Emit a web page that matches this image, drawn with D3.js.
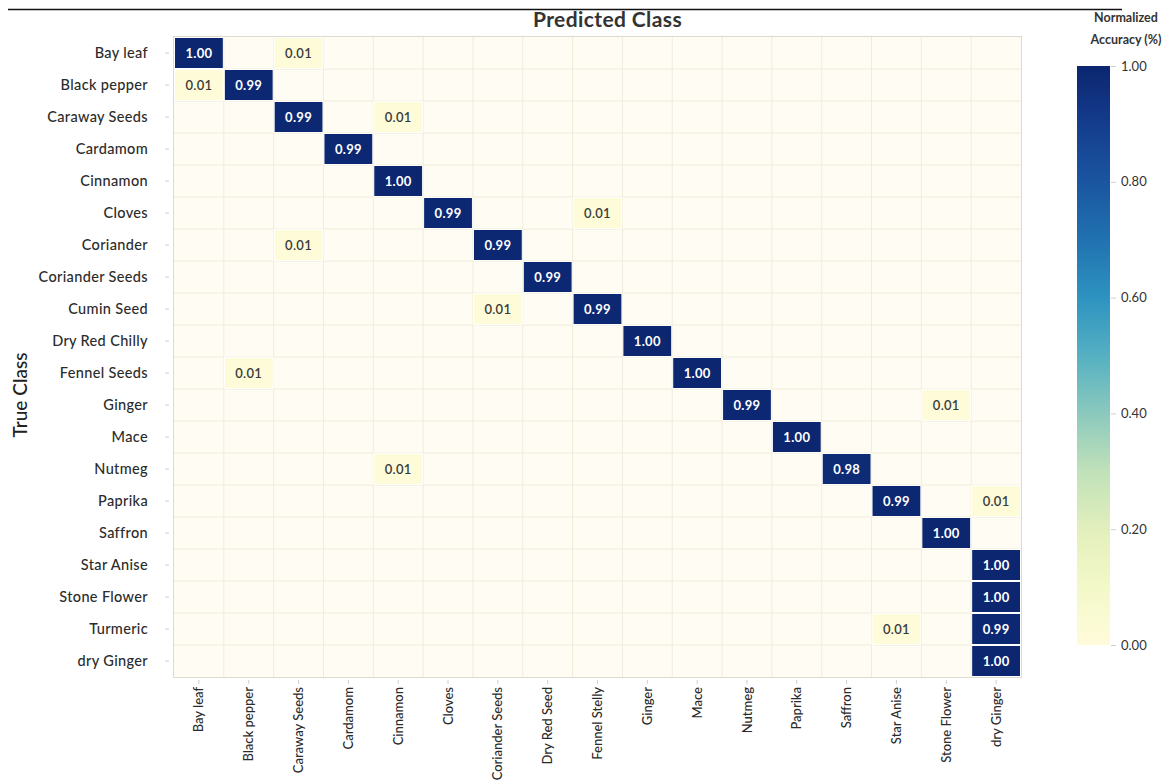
<!DOCTYPE html>
<html>
<head>
<meta charset="utf-8">
<script src="https://cdn.jsdelivr.net/npm/d3@7"></script>
<style>
  html, body { margin: 0; padding: 0; background: #ffffff; }
  svg { display: block; font-family: Lato, "Open Sans", sans-serif; }
</style>
</head>
<body>
<svg id="chart" width="1168" height="784"></svg>
<script>
// Confusion matrix: rows are the true classes, columns the predicted classes
const trueClasses = [
  "Bay leaf", "Black pepper", "Caraway Seeds", "Cardamom", "Cinnamon", "Cloves",
  "Coriander", "Coriander Seeds", "Cumin Seed", "Dry Red Chilly", "Fennel Seeds",
  "Ginger", "Mace", "Nutmeg", "Paprika", "Saffron", "Star Anise", "Stone Flower",
  "Turmeric", "dry Ginger"
];
const predictedClasses = [
  "Bay leaf", "Black pepper", "Caraway Seeds", "Cardamom", "Cinnamon", "Cloves",
  "Coriander Seeds", "Dry Red Seed", "Fennel Stelly", "Ginger", "Mace", "Nutmeg",
  "Paprika", "Saffron", "Star Anise", "Stone Flower", "dry Ginger"
];
// normalized accuracy per (true, predicted) pair
const matrix = [
  [1.00, 0, 0.01, 0, 0, 0, 0, 0, 0, 0, 0, 0, 0, 0, 0, 0, 0],
  [0.01, 0.99, 0, 0, 0, 0, 0, 0, 0, 0, 0, 0, 0, 0, 0, 0, 0],
  [0, 0, 0.99, 0, 0.01, 0, 0, 0, 0, 0, 0, 0, 0, 0, 0, 0, 0],
  [0, 0, 0, 0.99, 0, 0, 0, 0, 0, 0, 0, 0, 0, 0, 0, 0, 0],
  [0, 0, 0, 0, 1.00, 0, 0, 0, 0, 0, 0, 0, 0, 0, 0, 0, 0],
  [0, 0, 0, 0, 0, 0.99, 0, 0, 0.01, 0, 0, 0, 0, 0, 0, 0, 0],
  [0, 0, 0.01, 0, 0, 0, 0.99, 0, 0, 0, 0, 0, 0, 0, 0, 0, 0],
  [0, 0, 0, 0, 0, 0, 0, 0.99, 0, 0, 0, 0, 0, 0, 0, 0, 0],
  [0, 0, 0, 0, 0, 0, 0.01, 0, 0.99, 0, 0, 0, 0, 0, 0, 0, 0],
  [0, 0, 0, 0, 0, 0, 0, 0, 0, 1.00, 0, 0, 0, 0, 0, 0, 0],
  [0, 0.01, 0, 0, 0, 0, 0, 0, 0, 0, 1.00, 0, 0, 0, 0, 0, 0],
  [0, 0, 0, 0, 0, 0, 0, 0, 0, 0, 0, 0.99, 0, 0, 0, 0.01, 0],
  [0, 0, 0, 0, 0, 0, 0, 0, 0, 0, 0, 0, 1.00, 0, 0, 0, 0],
  [0, 0, 0, 0, 0.01, 0, 0, 0, 0, 0, 0, 0, 0, 0.98, 0, 0, 0],
  [0, 0, 0, 0, 0, 0, 0, 0, 0, 0, 0, 0, 0, 0, 0.99, 0, 0.01],
  [0, 0, 0, 0, 0, 0, 0, 0, 0, 0, 0, 0, 0, 0, 0, 1.00, 0],
  [0, 0, 0, 0, 0, 0, 0, 0, 0, 0, 0, 0, 0, 0, 0, 0, 1.00],
  [0, 0, 0, 0, 0, 0, 0, 0, 0, 0, 0, 0, 0, 0, 0, 0, 1.00],
  [0, 0, 0, 0, 0, 0, 0, 0, 0, 0, 0, 0, 0, 0, 0.01, 0, 0.99],
  [0, 0, 0, 0, 0, 0, 0, 0, 0, 0, 0, 0, 0, 0, 0, 0, 1.00]
];
const colorTicks = [0, 0.2, 0.4, 0.6, 0.8, 1.0];
const colorStops = ["#fffbdb", "#f3f8c8", "#e2efbc", "#c0e1b9", "#8bc9bd", "#55b0c2",
                    "#2e93c0", "#2072b0", "#1a55a0", "#143d8d", "#0c2670"];

const svg = d3.select("#chart");
const plot = { left: 174, right: 1021, top: 37, bottom: 677 };

const x = d3.scaleBand().domain(predictedClasses).range([plot.left, plot.right]);
const y = d3.scaleBand().domain(trueClasses).range([plot.top, plot.bottom]);
const color = d3.scaleLinear()
  .domain(d3.range(colorStops.length).map(i => i / (colorStops.length - 1)))
  .range(colorStops)
  .clamp(true);

// rule across the top
svg.append("line")
  .attr("x1", 8).attr("x2", 1122).attr("y1", 9.5).attr("y2", 9.5)
  .attr("stroke", "#111").attr("stroke-width", 1.3);

// plot background
svg.append("rect")
  .attr("x", plot.left).attr("y", plot.top)
  .attr("width", plot.right - plot.left).attr("height", plot.bottom - plot.top)
  .attr("fill", "#fffdf3");

// grid on cell boundaries
const grid = svg.append("g").attr("stroke", "#efecdc").attr("stroke-width", 1);
predictedClasses.forEach((c, i) => {
  if (i === 0) return;
  grid.append("line").attr("x1", x(c)).attr("x2", x(c))
    .attr("y1", plot.top).attr("y2", plot.bottom);
});
trueClasses.forEach((r, i) => {
  if (i === 0) return;
  grid.append("line").attr("y1", y(r)).attr("y2", y(r))
    .attr("x1", plot.left).attr("x2", plot.right);
});

// frame
svg.append("rect")
  .attr("x", plot.left - 0.5).attr("y", plot.top - 0.5)
  .attr("width", plot.right - plot.left + 1).attr("height", plot.bottom - plot.top + 1)
  .attr("fill", "none").attr("stroke", "#dddbd0").attr("stroke-width", 1);

// non-zero cells
const cells = [];
matrix.forEach((row, i) => row.forEach((v, j) => {
  if (v > 0) cells.push({ t: trueClasses[i], p: predictedClasses[j], v });
}));

const cellG = svg.append("g");
cellG.selectAll("rect").data(cells).join("rect")
  .attr("x", d => x(d.p) + 0.5)
  .attr("y", d => y(d.t) + 0.5)
  .attr("width", x.bandwidth() - 1)
  .attr("height", y.bandwidth() - 1)
  .attr("fill", d => color(d.v))
  .attr("stroke", "#ffffff").attr("stroke-width", 1);

cellG.selectAll("text").data(cells).join("text")
  .attr("x", d => x(d.p) + x.bandwidth() / 2)
  .attr("y", d => y(d.t) + y.bandwidth() / 2)
  .attr("dy", "0.36em")
  .attr("text-anchor", "middle")
  .attr("font-size", 13)
  .attr("letter-spacing", 0.3)
  .attr("font-weight", d => d.v > 0.5 ? 700 : 600)
  .attr("fill", d => d.v > 0.5 ? "#ffffff" : "#3a3a3a")
  .text(d => d3.format(".2f")(d.v));

// y axis (true class)
const yAxis = svg.append("g")
  .attr("transform", `translate(${plot.left - 5},0)`)
  .call(d3.axisLeft(y).tickSize(4).tickPadding(17));
yAxis.select(".domain").remove();
yAxis.selectAll(".tick line").attr("stroke", "#cfcfcf");
yAxis.selectAll(".tick text")
  .attr("font-size", 14.5).attr("letter-spacing", 0.35).attr("fill", "#2b2b2b")
  .attr("font-family", "Lato, sans-serif").attr("font-weight", 500);

// x axis (predicted class), labels rotated
const xAxis = svg.append("g")
  .attr("transform", `translate(0,${plot.bottom + 3})`)
  .call(d3.axisBottom(x).tickSize(4).tickPadding(6));
xAxis.select(".domain").remove();
xAxis.selectAll(".tick line").attr("stroke", "#cfcfcf");
xAxis.selectAll(".tick text")
  .attr("font-size", 13).attr("fill", "#2b2b2b")
  .attr("font-family", "Lato, sans-serif").attr("font-weight", 500)
  .attr("transform", "rotate(-90)")
  .attr("text-anchor", "end")
  .attr("x", -7).attr("y", 0).attr("dy", "0.35em");

// axis titles
svg.append("text")
  .attr("x", (plot.left + plot.right) / 2 + 10).attr("y", 27)
  .attr("text-anchor", "middle")
  .attr("font-size", 21).attr("letter-spacing", 0.4).attr("font-weight", 700).attr("fill", "#333")
  .text("Predicted Class");

svg.append("text")
  .attr("transform", `translate(27,${(plot.top + plot.bottom) / 2 + 38}) rotate(-90)`)
  .attr("text-anchor", "middle")
  .attr("font-size", 19).attr("font-weight", 500).attr("fill", "#222")
  .text("True Class");

// colorbar
const cb = { x: 1077, w: 33, top: 66, bottom: 645 };
const cbScale = d3.scaleLinear().domain([0, 1]).range([cb.bottom, cb.top]);
const defs = svg.append("defs");
const grad = defs.append("linearGradient").attr("id", "cbgrad")
  .attr("x1", 0).attr("x2", 0).attr("y1", 1).attr("y2", 0);
d3.range(0, 1.0001, 0.05).forEach(t => {
  grad.append("stop").attr("offset", t).attr("stop-color", color(t));
});
svg.append("rect")
  .attr("x", cb.x).attr("y", cb.top)
  .attr("width", cb.w).attr("height", cb.bottom - cb.top)
  .attr("fill", "url(#cbgrad)");

const cbAxis = svg.append("g")
  .attr("transform", `translate(${cb.x + cb.w + 1},0)`)
  .call(d3.axisRight(cbScale).tickValues(colorTicks).tickFormat(d3.format(".2f"))
    .tickSize(5).tickPadding(5));
cbAxis.select(".domain").remove();
cbAxis.selectAll(".tick line").attr("stroke", "#cfcfcf");
cbAxis.selectAll(".tick text")
  .attr("font-size", 13).attr("fill", "#333").attr("font-family", "Lato, sans-serif");

const cbTitle = svg.append("text")
  .attr("text-anchor", "middle").attr("font-size", 12.5).attr("font-weight", 700).attr("fill", "#333");
cbTitle.append("tspan").attr("x", 1126).attr("y", 22).text("Normalized");
cbTitle.append("tspan").attr("x", 1126).attr("y", 44).text("Accuracy (%)");
</script>
</body>
</html>
